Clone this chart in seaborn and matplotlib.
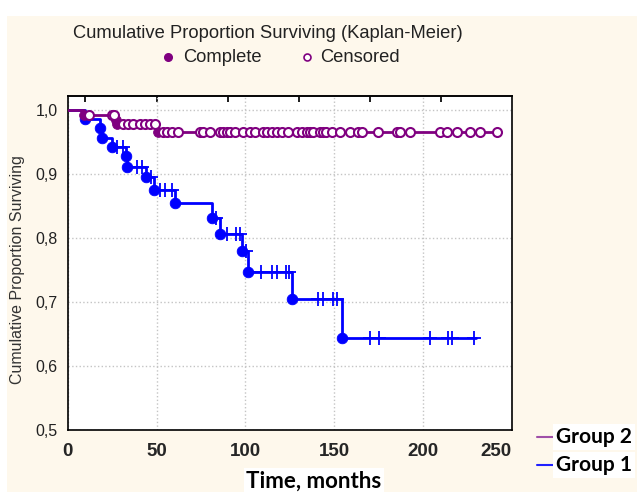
import numpy as np
import pandas as pd
import matplotlib
matplotlib.use('Agg')
import matplotlib.pyplot as plt
import seaborn as sns
from matplotlib.patches import Rectangle
from matplotlib.lines import Line2D

sns.set_theme(style='white')
plt.rcParams['font.family'] = ['Liberation Sans', 'DejaVu Sans']

# ---------------- data ----------------
# Group 1: Kaplan-Meier step points (time, survival after the step)
g1_step_t = [0, 9.7, 18.2, 19.3, 25, 33, 33.5, 44, 48.5, 60.5, 81, 85.5, 98, 101.5, 126.5, 154.5]
g1_step_s = [1.0, 0.986, 0.972, 0.956, 0.942, 0.928, 0.911, 0.895, 0.875, 0.854, 0.831, 0.806, 0.779, 0.747, 0.704, 0.644]
g1_end = 230
g1_censored = [28, 31, 39, 42, 47, 52, 55, 59, 83.5, 89.6, 94.6, 97, 100.5, 109, 115, 118,
               123, 124.5, 141, 144, 149.5, 151.5, 170, 175, 204, 214, 216.5, 229]

# Group 2
g2_step_t = [0, 9, 27, 28, 51]
g2_step_s = [1.0, 0.992, 0.985, 0.978, 0.965]
g2_end = 242
g2_censored = [12, 25, 26, 31.3, 34.1, 36.9, 40.7, 43.5, 46.3, 49.2,
               53.7, 55.9, 58.7, 62.1, 74.5, 76.2, 80.1, 85.8, 87.4, 89.7, 91.4, 94.2,
               98.7, 102.6, 105.5, 110, 112.2, 115, 117.9, 120.7, 124, 129.1, 131.9,
               134.7, 136.4, 138.1, 142, 143.8, 145.5, 148.8, 153.3, 159, 163.4, 165.7,
               174.7, 185.4, 187, 192.7, 209.6, 213.5, 219, 226.5, 232, 241.7]

x_ticks = [0, 50, 100, 150, 200, 250]
y_ticks = [0.5, 0.6, 0.7, 0.8, 0.9, 1.0]
y_tick_labels = ['0,5', '0,6', '0,7', '0,8', '0,9', '1,0']

BLUE = '#0000FF'
PURPLE = '#800080'


def curve_df(step_t, step_s, end):
    return pd.DataFrame({'t': list(step_t) + [end], 's': list(step_s) + [step_s[-1]]})


def surv_at(times, step_t, step_s):
    idx = np.searchsorted(np.array(step_t), np.array(times), side='right') - 1
    return np.array(step_s)[idx]


fig = plt.figure(figsize=(6.37, 4.92), dpi=100, facecolor='white')
fig.patches.append(Rectangle((7 / 637, 0), 1, (492 - 16) / 492, transform=fig.transFigure,
                             facecolor='#FEF8EC', edgecolor='none', zorder=-10))
ax = fig.add_axes([67.7 / 637, 1 - 430 / 492, 444 / 637, 334 / 492])
ax.set_facecolor('white')

# Group 1
sns.lineplot(data=curve_df(g1_step_t, g1_step_s, g1_end), x='t', y='s', drawstyle='steps-post',
             color=BLUE, lw=2, estimator=None, sort=False, ax=ax, zorder=2)
sns.scatterplot(x=g1_step_t[1:], y=g1_step_s[1:], color=BLUE, edgecolor=BLUE, s=58,
                marker='o', ax=ax, zorder=3)
sns.scatterplot(x=g1_censored, y=surv_at(g1_censored, g1_step_t, g1_step_s), color=BLUE,
                marker='+', s=100, linewidth=1.3, ax=ax, zorder=3)

# Group 2
sns.lineplot(data=curve_df(g2_step_t, g2_step_s, g2_end), x='t', y='s', drawstyle='steps-post',
             color=PURPLE, lw=2, estimator=None, sort=False, ax=ax, zorder=4)
sns.scatterplot(x=g2_step_t[1:], y=g2_step_s[1:], color=PURPLE, edgecolor=PURPLE, s=50,
                marker='o', ax=ax, zorder=5)
sns.scatterplot(x=g2_censored, y=surv_at(g2_censored, g2_step_t, g2_step_s), facecolor='white',
                edgecolor=PURPLE, linewidth=1.5, marker='o', s=42, ax=ax, zorder=5)

ax.set_xlim(0, 250)
ax.set_ylim(0.5, 1.022)
ax.set_xticks(x_ticks)
ax.set_xticklabels([str(v) for v in x_ticks], fontweight='bold', fontsize=13.5)
ax.get_xticklabels()[-1].set_horizontalalignment('right')
ax.set_yticks(y_ticks)
ax.set_yticklabels(y_tick_labels, fontsize=11.5, color='#222222')
ax.tick_params(axis='x', length=0, pad=9)
ax.tick_params(axis='y', length=3, color='#8fd8e8', direction='out', pad=4)
ax.set_xlabel('')
ax.set_ylabel('')
ax.grid(True, linestyle=':', color='#c4c4c4', lw=1)
for sp in ax.spines.values():
    sp.set_color('black')
    sp.set_linewidth(1.2)
# top ticks (inward)
axt = ax.secondary_xaxis('top')
axt.set_xticks([10, 50, 90, 130, 170, 210])
axt.tick_params(direction='in', length=4, labeltop=False, color='black')

# texts
fig.text(268 / 637, 1 - 33 / 492, 'Cumulative Proportion Surviving (Kaplan-Meier)',
         ha='center', va='center', fontsize=13.2, color='#222222')
fig.add_artist(Line2D([168 / 637], [1 - 57 / 492], marker='o', color=PURPLE, ms=5.5,
                      transform=fig.transFigure))
fig.text(183 / 637, 1 - 57 / 492, 'Complete', ha='left', va='center', fontsize=13.2, color='#222222')
fig.add_artist(Line2D([307 / 637], [1 - 57 / 492], marker='o', color=PURPLE, ms=5,
                      mfc='white', mew=1.2, transform=fig.transFigure))
fig.text(320 / 637, 1 - 57 / 492, 'Censored', ha='left', va='center', fontsize=13.2, color='#222222')

fig.text(18 / 637, 1 - 270 / 492, 'Cumulative Proportion Surviving', rotation=90,
         ha='center', va='center', fontsize=11.5, color='#333333')

# group legend
fig.add_artist(Line2D([537 / 637, 555 / 637], [1 - 437 / 492] * 2, color='#A050A8', lw=1.5,
                      transform=fig.transFigure))
fig.add_artist(Line2D([537 / 637, 555 / 637], [1 - 465 / 492] * 2, color='#2020FF', lw=1.5,
                      transform=fig.transFigure))
fig.text(556 / 637, 1 - 437 / 492, 'Group 2', ha='left', va='center', fontsize=15,
         fontweight='bold', family=['Lato', 'DejaVu Sans'], color='black',
         bbox=dict(facecolor='white', edgecolor='none', pad=2))
fig.text(556 / 637, 1 - 465 / 492, 'Group 1', ha='left', va='center', fontsize=15,
         fontweight='bold', family=['Lato', 'DejaVu Sans'], color='black',
         bbox=dict(facecolor='white', edgecolor='none', pad=2))
fig.text(314 / 637, 1 - 481 / 492, 'Time, months', ha='center', va='center', fontsize=16,
         fontweight='bold', family=['Lato', 'DejaVu Sans'], color='black',
         bbox=dict(facecolor='white', edgecolor='none', pad=2))

fig.savefig('out.png', dpi=100, facecolor=fig.get_facecolor())
